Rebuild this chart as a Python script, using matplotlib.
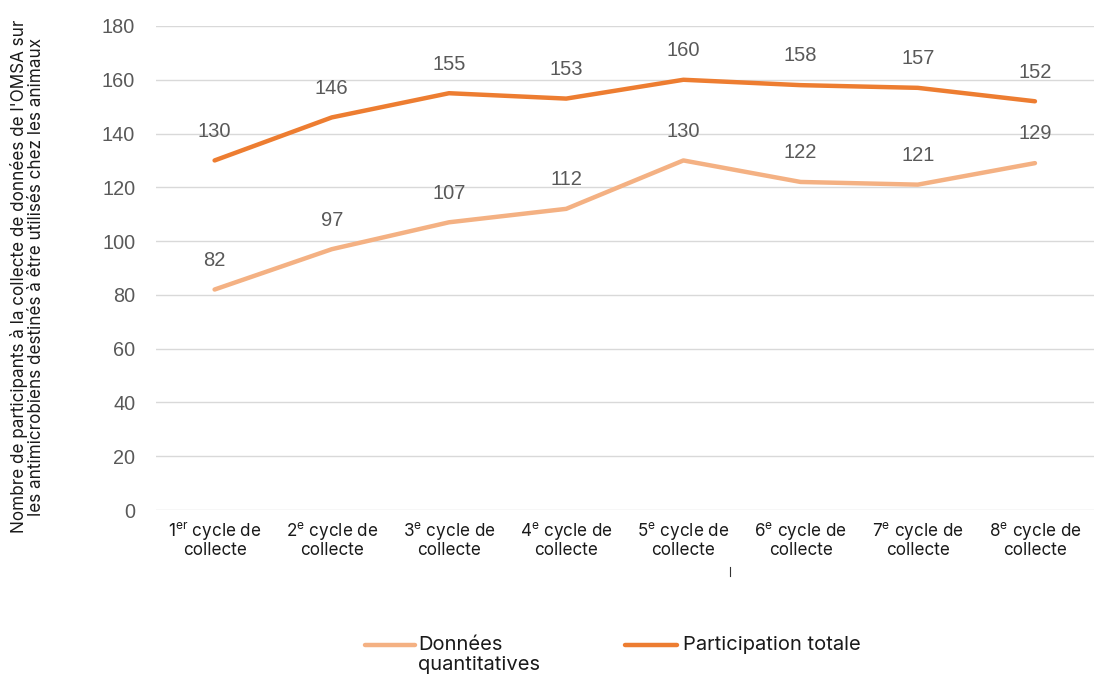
import matplotlib.pyplot as plt
import matplotlib.lines as mlines

cycles = ["1$^{\\mathregular{er}}$ cycle de\ncollecte"] + \
    ["%d$^{\\mathregular{e}}$ cycle de\ncollecte" % i for i in range(2, 9)]
quantitatives = [82, 97, 107, 112, 130, 122, 121, 129]
totale = [130, 146, 155, 153, 160, 158, 157, 152]
yticks = [0, 20, 40, 60, 80, 100, 120, 140, 160, 180]
series_names = ["Données\nquantitatives", "Participation totale"]

LIGHT = "#F4B183"
DARK = "#ED7D31"
GREY = "#595959"

def main():
    fig = plt.figure(figsize=(10.94, 6.75), dpi=100)
    ax = fig.add_axes([0.1426, 0.2444, 0.857, 0.7171])

    x = list(range(len(cycles)))
    ax.plot(x, quantitatives, color=LIGHT, lw=3.2, solid_capstyle="round", zorder=3)
    ax.plot(x, totale, color=DARK, lw=3.2, solid_capstyle="round", zorder=3)

    for serie in (quantitatives, totale):
        for xi, v in zip(x, serie):
            ax.annotate(str(v), (xi, v), xytext=(0, 21), textcoords="offset points",
                        ha="center", va="center", fontsize=14.5, color=GREY,
                        family="Liberation Sans")

    ax.set_xlim(-0.5, len(cycles) - 0.5)
    ax.set_ylim(0, 180)
    ax.set_yticks(yticks)
    ax.set_yticklabels([str(t) for t in yticks], fontsize=14.3, color=GREY,
                       family="Liberation Sans")
    ax.set_xticks(x)
    ax.set_xticklabels(cycles, fontsize=12.3, color="#1a1a1a", family="Inter",
                       linespacing=1.0)
    ax.tick_params(axis="y", length=0, pad=15)
    ax.tick_params(axis="x", length=0, pad=7)
    ax.grid(axis="y", color="#d9d9d9", lw=1)
    ax.set_axisbelow(True)
    for s in ax.spines.values():
        s.set_visible(False)

    ax.set_ylabel("Nombre de participants à la collecte de données de l'OMSA sur\n"
                  "les antimicrobiens destinés à être utilisés chez les animaux",
                  fontsize=12.3, color="#1a1a1a", family="Inter",
                  linespacing=1.0)
    ax.yaxis.set_label_coords(-0.118, 0.482)

    # legend drawn by hand so the handle sits on the first text line
    legend_pos = [(0.3336, 0.3793, 0.382), (0.5713, 0.6188, 0.6243)]
    for (x0, x1, xt), col, name in zip(legend_pos, [LIGHT, DARK], series_names):
        fig.add_artist(mlines.Line2D([x0, x1], [0.0444, 0.0444], color=col, lw=3.2,
                                     solid_capstyle="round"))
        fig.text(xt, 0.0444, name.split("\n")[0], fontsize=14.5, family="Inter",
                 color="#1a1a1a", va="center", ha="left")
        if "\n" in name:
            fig.text(xt, 0.0444 - 0.0296, name.split("\n")[1], fontsize=14.5,
                     family="Inter", color="#1a1a1a", va="center", ha="left")

    fig.add_artist(mlines.Line2D([0.667, 0.667], [0.147, 0.160], color="#333333", lw=0.8))

    fig.savefig("out.png", dpi=100)

main()
